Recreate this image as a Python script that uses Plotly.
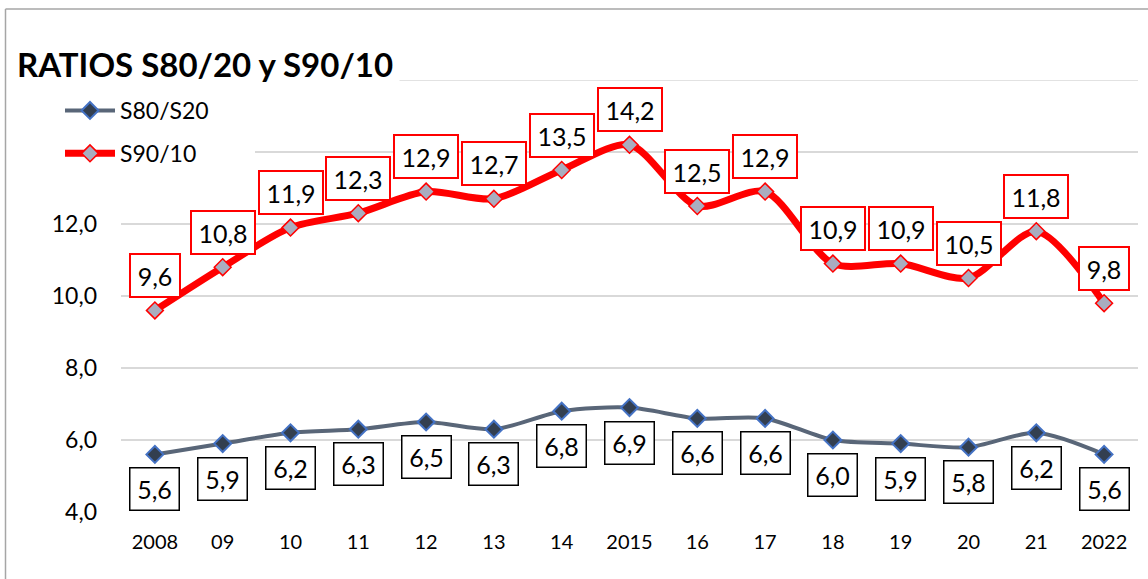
import plotly.graph_objects as go

# ---- data ----
years = [2008, 2009, 2010, 2011, 2012, 2013, 2014, 2015, 2016, 2017, 2018, 2019, 2020, 2021, 2022]
year_labels = ["2008", "09", "10", "11", "12", "13", "14", "2015", "16", "17", "18", "19", "20", "21", "2022"]
s80_s20 = [5.6, 5.9, 6.2, 6.3, 6.5, 6.3, 6.8, 6.9, 6.6, 6.6, 6.0, 5.9, 5.8, 6.2, 5.6]
s90_10 = [9.6, 10.8, 11.9, 12.3, 12.9, 12.7, 13.5, 14.2, 12.5, 12.9, 10.9, 10.9, 10.5, 11.8, 9.8]
y_ticks = [4, 6, 8, 10, 12, 14, 16]
y_tick_text = ["4,0", "6,0", "8,0", "10,0", "12,0", "", ""]
title_text = "RATIOS S80/20 y S90/10"

W, H = 1148, 579
OFF = 0  # page body margin removed via post_script
# plot area in screen pixels
PL, PR, PT, PB = 121, 1138, 80, 512
ML, MT = PL - OFF, PT - OFF
MR = W - (PR - OFF)
MB = H - (PB - OFF)
PW, PH = PR - PL, PB - PT


def px_x(p):
    return (p - PL) / PW


def px_y(p):
    return (PB - p) / PH


FONT = "Lato, 'Open Sans', sans-serif"


def fmt(v):
    return f"{v:.1f}".replace(".", ",")


fig = go.Figure()
fig.add_trace(go.Scatter(
    x=years, y=s80_s20, name="S80/S20", mode="lines+markers",
    line=dict(color="#596678", width=4, shape="spline", smoothing=0.8),
    marker=dict(symbol="diamond", size=13, color="#333f50", line=dict(color="#4472c4", width=2)),
    legendgroup="a",
))
fig.add_trace(go.Scatter(
    x=years, y=s90_10, name="S90/10", mode="lines+markers",
    line=dict(color="#ff0000", width=7, shape="spline", smoothing=0.8),
    marker=dict(symbol="diamond", size=13, color="#a9adbf", line=dict(color="#ff0000", width=1.5)),
    legendgroup="b",
))

annotations = []
for x, v in zip(years, s90_10):
    t = fmt(v)
    annotations.append(dict(
        x=x, y=v, xref="x", yref="y", text=t, showarrow=False, yshift=35,
        font=dict(family=FONT, size=25, color="black"),
        bgcolor="white", bordercolor="#ff0000", borderwidth=2, borderpad=4,
        width=14 * (len(t) - 1) + 12, height=33,
    ))
for x, v in zip(years, s80_s20):
    t = fmt(v)
    annotations.append(dict(
        x=x, y=v, xref="x", yref="y", text=t, showarrow=False, yshift=-35,
        font=dict(family=FONT, size=25, color="black"),
        bgcolor="white", bordercolor="#000000", borderwidth=1.5, borderpad=4,
        width=14 * (len(t) - 1) + 12, height=33,
    ))

annotations.append(dict(
    x=px_x(10), y=px_y(64), xref="paper", yref="paper", xanchor="left", yanchor="middle",
    text="<b>" + title_text + "</b>", showarrow=False,
    font=dict(family=FONT, size=33, color="black"),
    bgcolor="white", borderpad=6,
))

shapes = [
    # top gridline
    dict(type="line", xref="paper", yref="y", x0=0, x1=1, y0=y_ticks[-1], y1=y_ticks[-1],
         line=dict(color="#d9d9d9", width=1.5), layer="below"),
    # white area behind legend (covers gridline)
    dict(type="rect", xref="paper", yref="paper", x0=px_x(110), x1=px_x(255),
         y0=px_y(172), y1=px_y(92), fillcolor="white", line=dict(width=0), layer="above"),
    # chart frame
    dict(type="line", xref="paper", yref="paper", x0=px_x(5.5), x1=px_x(5.5),
         y0=px_y(9), y1=px_y(H + 5), line=dict(color="#a6a6a6", width=1.5)),
    dict(type="line", xref="paper", yref="paper", x0=px_x(5.5), x1=px_x(W + 5),
         y0=px_y(9), y1=px_y(9), line=dict(color="#a6a6a6", width=1.5)),
]

fig.update_layout(
    width=W, height=H,
    margin=dict(l=ML, r=MR, t=MT, b=MB, autoexpand=False),
    paper_bgcolor="white", plot_bgcolor="white",
    font=dict(family=FONT, size=20, color="black"),
    showlegend=True,
    legend=dict(
        x=px_x(60), y=px_y(89), xanchor="left", yanchor="top",
        bgcolor="rgba(0,0,0,0)", font=dict(family=FONT, size=23, color="black"),
        itemwidth=50, tracegroupgap=10, traceorder="grouped",
    ),
    xaxis=dict(
        range=[years[0] - 0.5, years[-1] + 0.5], tickvals=years, ticktext=year_labels,
        showgrid=False, zeroline=False, showline=False, ticks="",
        ticklabelstandoff=16, tickfont=dict(family=FONT, size=20),
    ),
    yaxis=dict(
        range=[4, 16], tickvals=y_ticks, ticktext=y_tick_text,
        showgrid=True, gridcolor="#d9d9d9", gridwidth=1.5, zeroline=False, showline=False,
        ticks="", ticklabelstandoff=23, tickfont=dict(family=FONT, size=23),
    ),
    annotations=annotations,
    shapes=shapes,
)

fig.write_html(
    "out.html",
    config={"displayModeBar": False},
    post_script="document.body.style.margin='0px';",
)
